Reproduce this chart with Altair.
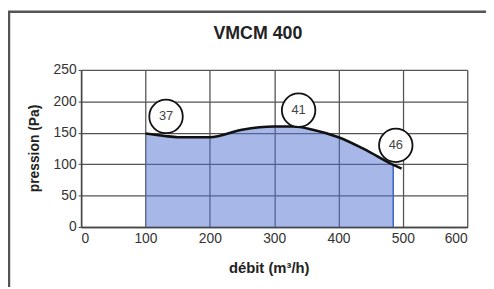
import altair as alt
import pandas as pd

# curve (débit m3/h, pression Pa)
debit = [100, 130, 150, 200, 250, 300, 330, 360, 400, 440, 485, 498]
pression = [149, 145, 143, 143, 155, 160, 160, 155, 143, 124, 99, 93]
fill_end = 485

# bubble labels
bub_x = [132, 338, 489]
bub_y = [176, 186, 130]
bub_txt = ["37", "41", "46"]

x_ticks = [0, 100, 200, 300, 400, 500, 600]
y_ticks = [0, 50, 100, 150, 200, 250]

curve = pd.DataFrame({"debit": debit, "pression": pression})
area_df = curve[curve["debit"] <= fill_end]
bubbles = pd.DataFrame({"debit": bub_x, "pression": bub_y, "t": bub_txt})

W, H = 391, 159
FONT = "Liberation Sans"

xs = alt.Scale(domain=[0, 600], nice=False)
ys = alt.Scale(domain=[0, 250], nice=False)

xax = alt.Axis(values=x_ticks, title="débit (m³/h)", labelOverlap=False,
               titleX=190, titleY=41, titleBaseline="middle", titleAlign="center",
               titleFontSize=15, titleFontWeight="bold", titleColor="#222",
               labelFontSize=14, labelColor="#333", labelPadding=5, tickSize=0,
               grid=True, gridColor="#555", gridWidth=1.3, domainColor="#444", domainWidth=1.5)
yax = alt.Axis(values=y_ticks, title="pression (Pa)", labelOverlap=False,
               titleX=-47, titleY=79, titleAngle=-90, titleBaseline="middle", titleAlign="center",
               titleFontSize=14, titleFontWeight="bold", titleColor="#222",
               labelFontSize=14, labelColor="#333", labelPadding=2, tickSize=3, tickColor="#444",
               grid=True, gridColor="#555", gridWidth=1.3, domainColor="#444", domainWidth=1.5)

X = alt.X("debit:Q", scale=xs, axis=xax)
Y = alt.Y("pression:Q", scale=ys, axis=yax)

area = alt.Chart(area_df).mark_area(color="#5070d0", opacity=0.5, interpolate="monotone").encode(
    x=X, y=Y,
)
edge = alt.Chart(area_df[area_df["debit"] == fill_end]).mark_rule(color="#3a63c8", strokeWidth=1.5).encode(
    x=X, y=Y, y2=alt.datum(0),
)
line = alt.Chart(curve).mark_line(color="#111", strokeWidth=2.6, interpolate="monotone").encode(
    x=X, y=Y,
)
circ = alt.Chart(bubbles).mark_point(shape="circle", filled=True, fill="white", stroke="#111",
                                       strokeWidth=1.8, size=1150, opacity=1).encode(
    x=X, y=Y,
)
ctext = alt.Chart(bubbles).mark_text(fontSize=13, color="#444", font=FONT).encode(
    x=X, y=Y, text="t:N",
)
title = alt.Chart(pd.DataFrame({"t": ["VMCM 400"]})).mark_text(
    fontSize=18, fontWeight="bold", color="#222", font=FONT, baseline="alphabetic"
).encode(x=alt.value(179), y=alt.value(-31), text="t:N")
frame = alt.Chart(pd.DataFrame({"a": [0]})).mark_rect(
    fill=None, stroke="#555", strokeWidth=2.5
).encode(x=alt.value(-73), x2=alt.value(W + 40), y=alt.value(-59), y2=alt.value(H + 80))

chart = alt.layer(frame, area, edge, line, circ, ctext, title).properties(
    width=W, height=H,
    autosize=alt.AutoSizeParams(type="none"),
    padding={"left": 74, "top": 61, "right": 19, "bottom": 59},
).configure_view(stroke="#555", strokeWidth=1.3).configure(font=FONT)

chart.save("out.html", embed_options={"renderer": "svg", "actions": False})
